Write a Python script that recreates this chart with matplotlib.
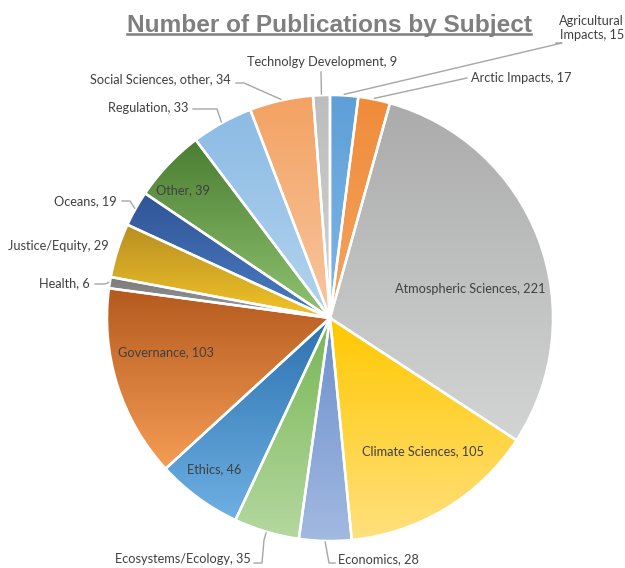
import matplotlib.pyplot as plt
import numpy as np
from matplotlib.colors import to_rgb

# data
subjects = ['Agricultural\nImpacts', 'Arctic Impacts', 'Atmospheric Sciences', 'Climate Sciences',
            'Economics', 'Ecosystems/Ecology', 'Ethics', 'Governance', 'Health', 'Justice/Equity',
            'Oceans', 'Other', 'Regulation', 'Social Sciences, other', 'Technolgy Development']
counts = [15, 17, 221, 105, 28, 35, 46, 103, 6, 29, 19, 39, 33, 34, 9]

# gradient colours (top, bottom) per slice
top_cols = ['#5e9fd8', '#ef8c3a', '#ababab', '#ffc800', '#6b8fcc', '#77b655', '#2c72b0', '#b45a1e',
            '#7a7a7a', '#b88e22', '#2f5597', '#4b7d32', '#8cbbe4', '#f3a262', '#bdbdbd']
bot_cols = ['#80b8e6', '#f5a461', '#d3d4d4', '#ffe07e', '#a2b9e1', '#b5d8a0', '#6eb0e2', '#f59c55',
            '#9c9c9c', '#f2c428', '#4d7cc2', '#90c471', '#b3d3ef', '#f8c6a0', '#d2d2d2']

H = 568
cx, cy, R = 330, 318, 223

# label layout in picture coords: (x, y, ha, leader points or None)
layout = [
    (624, 28, 'right', [(556, 43), (562, 43)]),
    (471, 78, 'left', [(467, 78)]),
    (470, 289, 'center', None),
    (423, 451, 'center', None),
    (338, 559, 'left', [(335, 563), (329, 563)]),
    (251, 559, 'right', [(254, 563), (262, 563), (264, 540)]),
    (214, 469, 'center', None),
    (166, 352, 'center', None),
    (90, 283, 'right', [(95, 284), (105, 284)]),
    (109, 246, 'right', None),
    (117, 201, 'right', [(122, 201), (130, 201)]),
    (183, 190, 'center', None),
    (188, 108, 'right', [(193, 109), (217, 109)]),
    (231, 79, 'right', [(236, 83), (244, 83)]),
    (322, 62, 'center', [(321, 72)]),
]

fig = plt.figure(figsize=(6.25, 5.68), dpi=100)
ax = fig.add_axes([0, 0, 1, 1])
ax.axis('off')

wedges, _ = ax.pie(counts, center=(cx, H - cy), radius=R, startangle=90, counterclock=False,
                   wedgeprops=dict(edgecolor='white', linewidth=1.8), frame=True)

for w, c1, c2 in zip(wedges, top_cols, bot_cols):
    bb = w.get_path().get_extents()
    a, b = np.array(to_rgb(c1)), np.array(to_rgb(c2))
    t = np.linspace(0, 1, 200)[:, None, None]
    grad = a * (1 - t) + b * t
    w.set_facecolor('none')
    im = ax.imshow(grad, extent=[bb.x0, bb.x1, bb.y0, bb.y1], origin='upper',
                   aspect='auto', interpolation='bilinear', zorder=1)
    im.set_clip_path(w)
    w.set_zorder(2)

lab_font = dict(family=['Lato', 'DejaVu Sans'], fontsize=9.2, color='#404040')
for w, name, n, lay in zip(wedges, subjects, counts, layout):
    x, y, ha, pts = lay
    ax.text(x, H - y, f'{name}, {n}', ha=ha, va='center', multialignment='right', zorder=5, **lab_font)
    if pts is not None:
        ang = np.deg2rad((w.theta1 + w.theta2) / 2)
        ex, ey = cx + R * 1.005 * np.cos(ang), (H - cy) + R * 1.005 * np.sin(ang)
        xs = [p[0] for p in pts] + [ex]
        ys = [H - p[1] for p in pts] + [ey]
        ax.plot(xs, ys, color='#a6a6a6', lw=1, zorder=4)

ax.set_xlim(0, 625)
ax.set_ylim(0, H)
ax.set_aspect('equal')

title = ax.text(329, H - 32, 'Number of Publications by Subject', ha='center', va='baseline',
                family=['Liberation Sans', 'DejaVu Sans'], fontsize=17.6, fontweight='bold', color='#7f7f7f')
fig.canvas.draw()
bb = title.get_window_extent()
ax.plot([bb.x0, bb.x1], [H - 34, H - 34], color='#7f7f7f', lw=1.8)

fig.savefig('out.png')
